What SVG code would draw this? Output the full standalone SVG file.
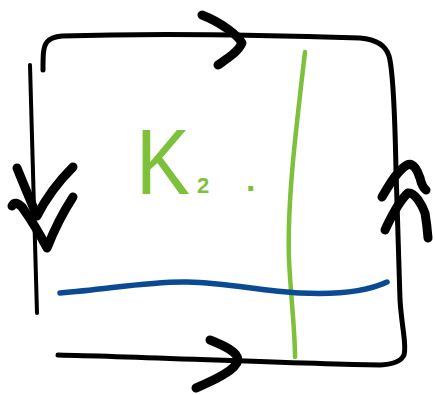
<svg xmlns="http://www.w3.org/2000/svg" width="435" height="395" viewBox="0 0 435 395">
<style>
.ink{fill:none;stroke:#000;stroke-linecap:round;stroke-linejoin:round}
.frame{stroke-width:5}
.thin{stroke-width:4}
.chev{stroke-width:9}
.green{fill:none;stroke:#7dc13a;stroke-width:4.5;stroke-linecap:round}
.blue{fill:none;stroke:#0a4a93;stroke-width:5.5;stroke-linecap:round}
.lbl{fill:#7dc13a;font-family:"Liberation Sans",Arial,sans-serif}
</style>
<rect width="435" height="395" fill="#fff"/>
<g id="frame">
<path class="ink frame" d="M43,70 C43,55 43,47 47,42 Q51,37 62,36 C150,33 270,35 360,38 Q384,40 389,56 C393,70 395,120 396,170 L400,300 C402,330 407,345 404,355 Q400,364 380,365 C300,364 150,357 58,355"/>
<path class="ink thin" d="M30,65 C32,150 36,250 37,313"/>
</g>
<g id="connectors">
<path class="ink chev" d="M202,15 C220,22 238,35 242,43 C238,52 228,58 218,65"/>
<path class="ink chev" d="M210,340 C225,346 238,352 238,360 C236,370 215,380 196,388"/>
<path class="ink chev" d="M17,168 Q28,195 37,216 Q50,190 73,167"/>
<path class="ink chev" d="M12,206 Q15,200 22,207 Q35,225 47,248 Q58,220 73,197"/>
<path class="ink chev" d="M382,197 C390,183 398,170 407,165 C414,162 418,172 420,178 Q422,187 426,190"/>
<path class="ink chev" d="M385,230 C392,215 400,200 408,193 C415,192 422,205 425,213 Q427,225 428,238"/>
</g>
<g id="curves">
<path class="green" d="M305,52 C296,130 287,200 289,260 C291,300 295,330 295,357"/>
<path class="blue" d="M60,293 C110,289 150,281 187,282 C230,283 260,291 300,293 C340,295 370,290 387,282"/>
</g>
<g id="label">
<text class="lbl" x="136" y="194" font-size="92" textLength="54" lengthAdjust="spacingAndGlyphs">K</text>
<text class="lbl" x="197" y="193" font-size="22" font-weight="bold">2</text>
<text class="lbl" x="246" y="191" font-size="34" font-weight="bold">.</text>
</g>
</svg>
